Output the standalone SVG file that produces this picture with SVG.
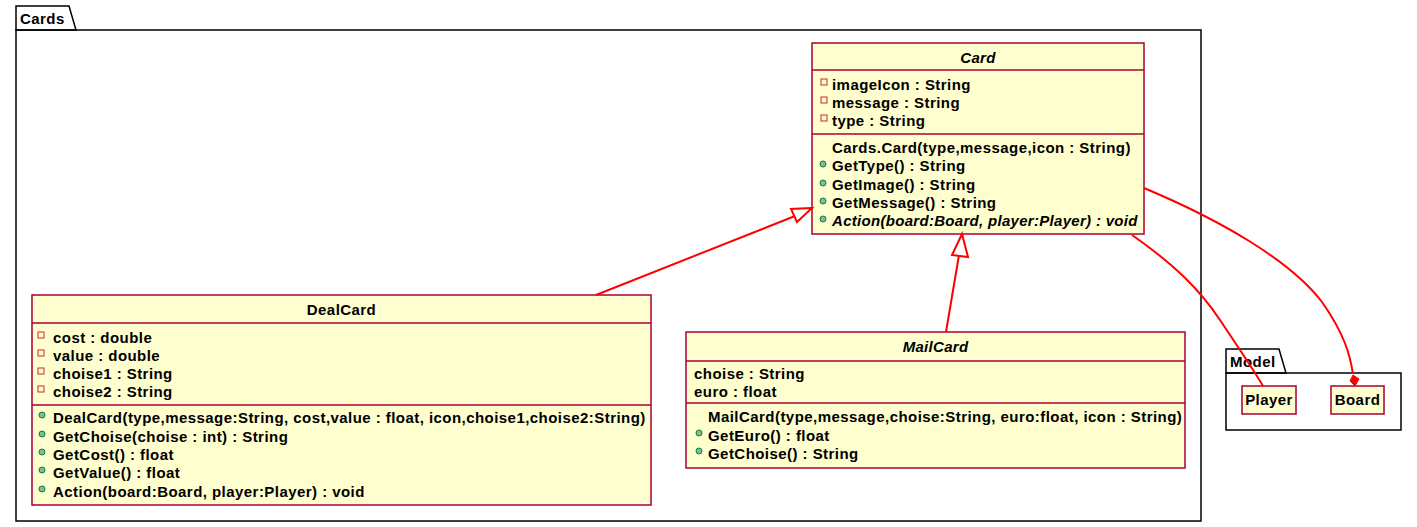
<svg xmlns="http://www.w3.org/2000/svg" width="1417" height="527" viewBox="0 0 1417 527">
  <style>
    text { font-family: "Liberation Sans", Arial, sans-serif; font-size: 15px; font-weight: bold; letter-spacing: 0.45px; fill: #000; }
    .it { font-style: italic; letter-spacing: 0.3px; }
    .pkg { fill: none; stroke: #000; stroke-width: 1.5; }
    .cls { fill: #FEFECE; stroke: #A80036; stroke-width: 1.5; }
    .sep { stroke: #A80036; stroke-width: 1.5; }
    .priv { fill: none; stroke: #C82930; stroke-width: 1; }
    .pub { fill: #84BE84; stroke: #038048; stroke-width: 1; }
    .edge { fill: none; stroke: #FF0000; stroke-width: 2; }
    .head { fill: #FFFFFF; stroke: #FF0000; stroke-width: 2; }
    .diam { fill: #FF0000; stroke: #FF0000; stroke-width: 1; }
  </style>

  <!-- package Cards -->
  <g id="pkg-cards">
    <path class="pkg" d="M16,30 L16,6 L69,6 L76,30 Z"/>
    <rect class="pkg" x="16" y="30" width="1185" height="491"/>
    <text x="20" y="24">Cards</text>
  </g>

  <!-- package Model -->
  <g id="pkg-model">
    <path class="pkg" d="M1226,373 L1226,349 L1279,349 L1286,373 Z"/>
    <rect class="pkg" x="1226" y="373" width="175" height="57"/>
    <text x="1230" y="367">Model</text>
  </g>

  <!-- abstract class Card -->
  <g id="card">
    <rect class="cls" x="812" y="43" width="332" height="191"/>
    <line class="sep" x1="812" y1="70" x2="1144" y2="70"/>
    <line class="sep" x1="812" y1="134" x2="1144" y2="134"/>
    <text class="it" x="978" y="63" text-anchor="middle">Card</text>
    <rect class="priv" x="821" y="79" width="6" height="6"/>
    <text x="832" y="90">imageIcon : String</text>
    <rect class="priv" x="821" y="97" width="6" height="6"/>
    <text x="832" y="108">message : String</text>
    <rect class="priv" x="821" y="115" width="6" height="6"/>
    <text x="832" y="126">type : String</text>
    <text x="832" y="153">Cards.Card(type,message,icon : String)</text>
    <circle class="pub" cx="823" cy="164" r="3"/>
    <text x="832" y="171">GetType() : String</text>
    <circle class="pub" cx="823" cy="183" r="3"/>
    <text x="832" y="190">GetImage() : String</text>
    <circle class="pub" cx="823" cy="201" r="3"/>
    <text x="832" y="208">GetMessage() : String</text>
    <circle class="pub" cx="823" cy="219" r="3"/>
    <text class="it" x="832" y="226">Action(board:Board, player:Player) : void</text>
  </g>

  <!-- class DealCard -->
  <g id="dealcard">
    <rect class="cls" x="32" y="295" width="619" height="210"/>
    <line class="sep" x1="32" y1="323" x2="651" y2="323"/>
    <line class="sep" x1="32" y1="405" x2="651" y2="405"/>
    <text x="341.5" y="315" text-anchor="middle">DealCard</text>
    <rect class="priv" x="38" y="332" width="6" height="6"/>
    <text x="53" y="343">cost : double</text>
    <rect class="priv" x="38" y="350" width="6" height="6"/>
    <text x="53" y="361">value : double</text>
    <rect class="priv" x="38" y="368" width="6" height="6"/>
    <text x="53" y="379">choise1 : String</text>
    <rect class="priv" x="38" y="386" width="6" height="6"/>
    <text x="53" y="397">choise2 : String</text>
    <circle class="pub" cx="42" cy="415" r="3"/>
    <text x="53" y="423">DealCard(type,message:String, cost,value : float, icon,choise1,choise2:String)</text>
    <circle class="pub" cx="42" cy="434" r="3"/>
    <text x="53" y="442">GetChoise(choise : int) : String</text>
    <circle class="pub" cx="42" cy="452" r="3"/>
    <text x="53" y="460">GetCost() : float</text>
    <circle class="pub" cx="42" cy="470" r="3"/>
    <text x="53" y="478">GetValue() : float</text>
    <circle class="pub" cx="42" cy="489" r="3"/>
    <text x="53" y="497">Action(board:Board, player:Player) : void</text>
  </g>

  <!-- abstract class MailCard -->
  <g id="mailcard">
    <rect class="cls" x="686" y="332" width="499" height="136"/>
    <line class="sep" x1="686" y1="361" x2="1185" y2="361"/>
    <line class="sep" x1="686" y1="403" x2="1185" y2="403"/>
    <text class="it" x="935.5" y="352" text-anchor="middle">MailCard</text>
    <text x="694" y="379">choise : String</text>
    <text x="694" y="397">euro : float</text>
    <text x="708" y="422">MailCard(type,message,choise:String, euro:float, icon : String)</text>
    <circle class="pub" cx="699" cy="433" r="3"/>
    <text x="708" y="441">GetEuro() : float</text>
    <circle class="pub" cx="699" cy="451" r="3"/>
    <text x="708" y="459">GetChoise() : String</text>
  </g>

  <!-- class Player -->
  <g id="player">
    <rect class="cls" x="1242" y="386" width="54" height="28"/>
    <text x="1269" y="405" text-anchor="middle">Player</text>
  </g>

  <!-- class Board -->
  <g id="board">
    <rect class="cls" x="1331" y="386" width="53" height="28"/>
    <text x="1357.5" y="405" text-anchor="middle">Board</text>
  </g>

  <!-- relations -->
  <g id="connectors">
    <!-- DealCard extends Card -->
    <path class="edge" d="M596,295 L795,216"/>
    <polygon class="head" points="812,208 791,209 797,222"/>
    <!-- MailCard extends Card -->
    <path class="edge" d="M946,332 L959,255"/>
    <polygon class="head" points="962,234 952,255 968,257"/>
    <!-- Card uses Player -->
    <path class="edge" d="M1132,235 C1175,265 1200,290 1220,320 C1240,350 1255,372 1263,386"/>
    <!-- Board composed of Card -->
    <path class="edge" d="M1144,188 C1220,220 1290,260 1322,302 C1345,335 1350,355 1353,374"/>
    <polygon class="diam" points="1355,386 1350,381 1353,375 1359,379"/>
  </g>
</svg>
